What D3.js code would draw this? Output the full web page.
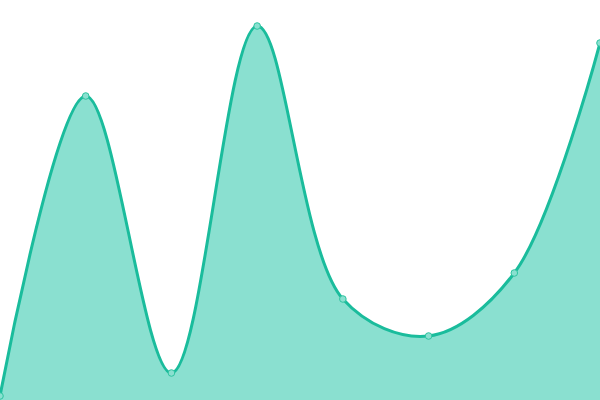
<!DOCTYPE html>
<html>
<head>
<meta charset="utf-8">
<script src="https://cdn.jsdelivr.net/npm/d3@7"></script>
<style>
  html, body { margin: 0; padding: 0; background: #fff; }
</style>
</head>
<body>
<svg id="chart" width="600" height="400"></svg>
<script>
// chart data
const labels = ["A", "B", "C", "D", "E", "F", "G", "H"];
const values = [1, 76, 6.75, 93.5, 25.25, 16, 31.75, 89.25];

const width = 600;
const height = 400;

const svg = d3.select("#chart");

const x = d3.scalePoint().domain(labels).range([0, width]);
const y = d3.scaleLinear().domain([0, 100]).range([height, 0]);

const data = labels.map((l, i) => ({ label: l, value: values[i] }));
const curve = d3.curveCatmullRom.alpha(0.5);

// filled area
svg.append("path")
  .datum(data)
  .attr("fill", "#8ae0d0")
  .attr("d", d3.area()
    .x(d => x(d.label))
    .y0(height)
    .y1(d => y(d.value))
    .curve(curve));

// line on top
svg.append("path")
  .datum(data)
  .attr("fill", "none")
  .attr("stroke", "#1abc9c")
  .attr("stroke-width", 3)
  .attr("d", d3.line()
    .x(d => x(d.label))
    .y(d => y(d.value))
    .curve(curve));

// points
svg.selectAll(".pt")
  .data(data)
  .enter()
  .append("circle")
  .attr("class", "pt")
  .attr("cx", d => x(d.label))
  .attr("cy", d => y(d.value))
  .attr("r", 3.3)
  .attr("fill", "#8ae0d0")
  .attr("stroke", "#2ec4a0")
  .attr("stroke-width", 1);
</script>
</body>
</html>
